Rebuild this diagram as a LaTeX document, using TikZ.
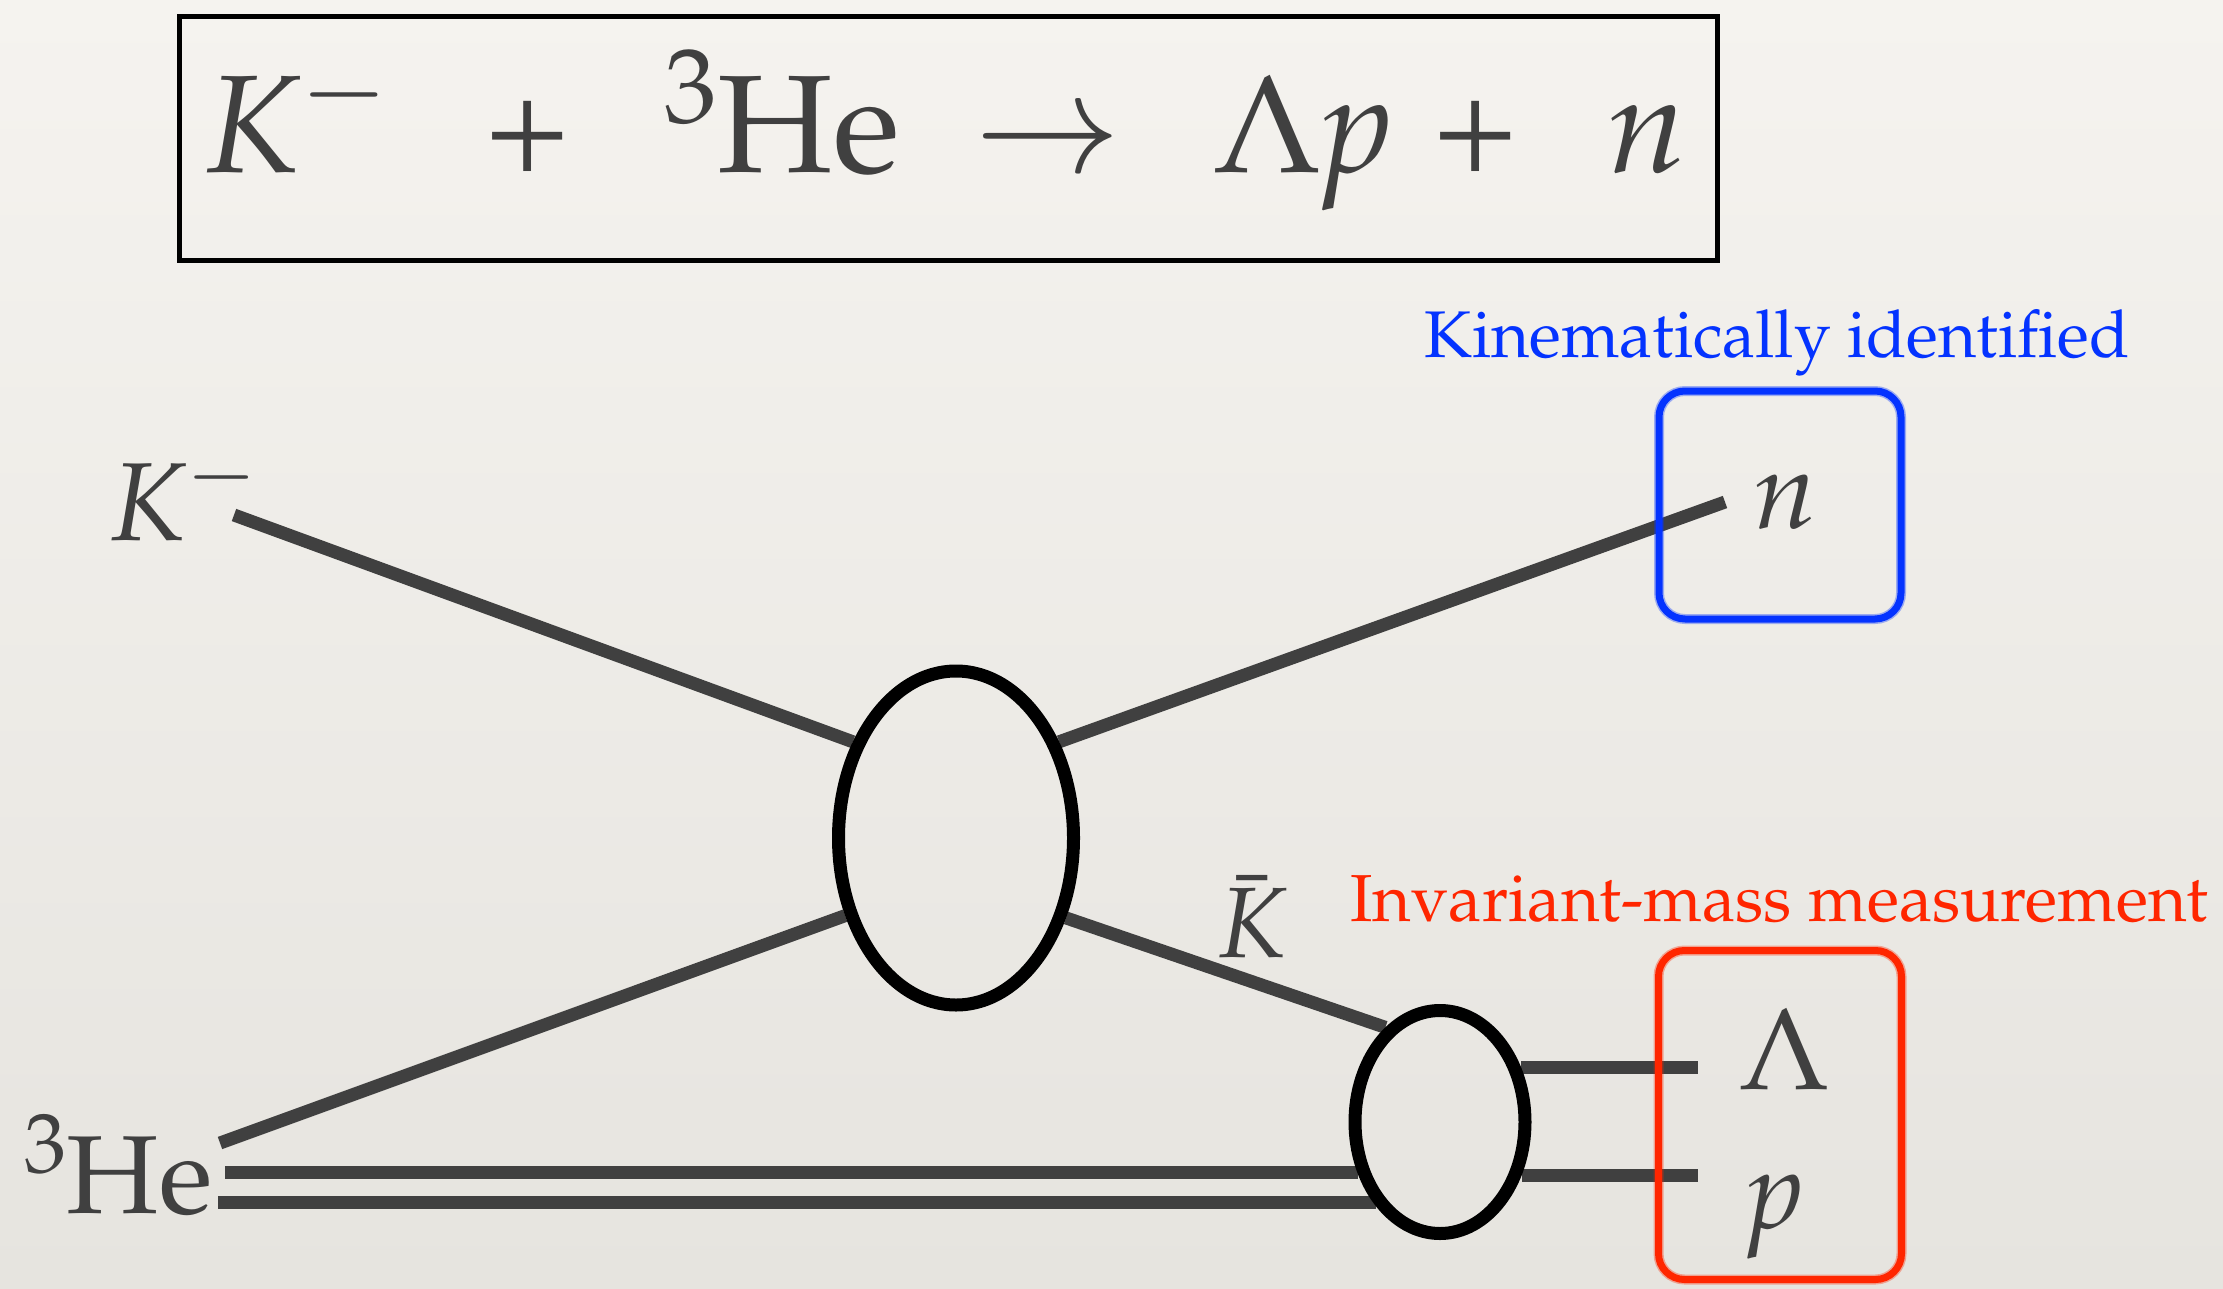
\documentclass[tikz,border=0pt]{standalone}
\usepackage[T1]{fontenc}
\usepackage{mathpazo}
\usetikzlibrary{shapes.geometric,backgrounds}
\definecolor{bgtop}{RGB}{245,243,239}
\definecolor{bgbot}{RGB}{230,228,223}
\definecolor{ink}{RGB}{64,64,64}
\definecolor{kblue}{RGB}{4,51,255}
\definecolor{kred}{RGB}{255,38,0}
\begin{document}
\begin{tikzpicture}[x=1pt,y=-1pt,
  prop/.style={draw=ink,line width=13pt},
  blob/.style={ellipse,draw=black,line width=13pt,inner sep=0pt},
  eqt/.style={text=ink,inner sep=0pt,font=\fontsize{139}{150}\selectfont},
  lbl/.style={text=ink,inner sep=0pt,anchor=base west,font=\fontsize{111}{120}\selectfont},
  note/.style={inner sep=0pt,anchor=base west},
  sketchbox/.style={rectangle,draw=#1,line width=7pt,rounded corners=26pt,inner sep=0pt,
    preaction={draw=#1,draw opacity=0.35,line width=10pt}}
]
\useasboundingbox (0,0) rectangle (2223,1289);

% reaction equation
\node[draw=black,line width=4.5pt,minimum width=1538pt,minimum height=244pt,inner sep=0pt] (eqbox) at (948.5,138.5) {};
\node[eqt,anchor=base west] (eqK) at (205,173) {\textit{K}$^{-}$};
\node[eqt,anchor=base] (eqplusA) at (528,173) {+};
\node[eqt,anchor=base west] (eqHe) at (664,173) {\textsuperscript{3}He};
\node[eqt,anchor=base] (eqarrow) at (1048,173) {$\rightarrow$};
\node[eqt,anchor=base west] (eqLp) at (1212,173) {$\Lambda$\textit{p}};
\node[eqt,anchor=base] (eqplusB) at (1476,173) {+};
\node[eqt,anchor=base west] (eqn) at (1608,173) {\textit{n}};

% vertices
\node[blob,minimum width=235pt,minimum height=334pt] (V) at (956,838) {};
\node[blob,minimum width=170pt,minimum height=223pt] (S) at (1440,1122) {};

% free ends
\coordinate (Kin) at (234,515);
\coordinate (nout) at (1725,502);
\coordinate (Hin) at (220,1143);
\coordinate (DA) at (225,1172);
\coordinate (DB) at (218,1202);
\coordinate (Lend) at (1698,1068);
\coordinate (pend) at (1698,1172);

\begin{scope}[on background layer]
  \path[top color=bgtop,bottom color=bgbot] (0,0) rectangle (2223,1289);
  \draw[prop] (Kin) -- (V.137);
  \draw[prop] (V.43) -- (nout);
  \draw[prop] (Hin) -- (V.215);
  \draw[prop] (V.324) -- (S.120);
  \draw[prop] (DA) -- (DA -| S.213);
  \draw[prop] (DB) -- (DB -| S.233);
  \draw[prop] (S.34) -- (S.34 -| Lend);
  \draw[prop] (S.-33) -- (S.-33 -| pend);
\end{scope}

% labels
\node[lbl] (Klab) at (110,540) {\textit{K}$^{-}$};
\node[lbl,font=\fontsize{111}{120}\selectfont] (Helab) at (24,1213) {\textsuperscript{3}He};
\node[lbl,font=\fontsize{100}{110}\selectfont] (Kbar) at (1218,957) {$\bar{\mbox{\textit{K}}}$};
\node[lbl] (nlab) at (1754,528) {\textit{n}};
\node[lbl,font=\fontsize{116}{120}\selectfont] (Llab) at (1738,1089) {$\Lambda$};
\node[lbl] (plab) at (1748,1228) {\textit{p}};

% measurement boxes and notes
\node[sketchbox=kblue,minimum width=242pt,minimum height=228pt] (nbox) at (1780,505) {};
\node[sketchbox=kred,minimum width=243pt,minimum height=329pt] (Lpbox) at (1780,1115) {};
\node[note,text=kblue,font=\fontsize{66}{70}\selectfont] (kinnote) at (1424,357) {Kinematically identified};
\node[note,text=kred,font=\fontsize{66.5}{70}\selectfont] (invnote) at (1350,921) {Invariant-mass measurement};
\end{tikzpicture}
\end{document}
